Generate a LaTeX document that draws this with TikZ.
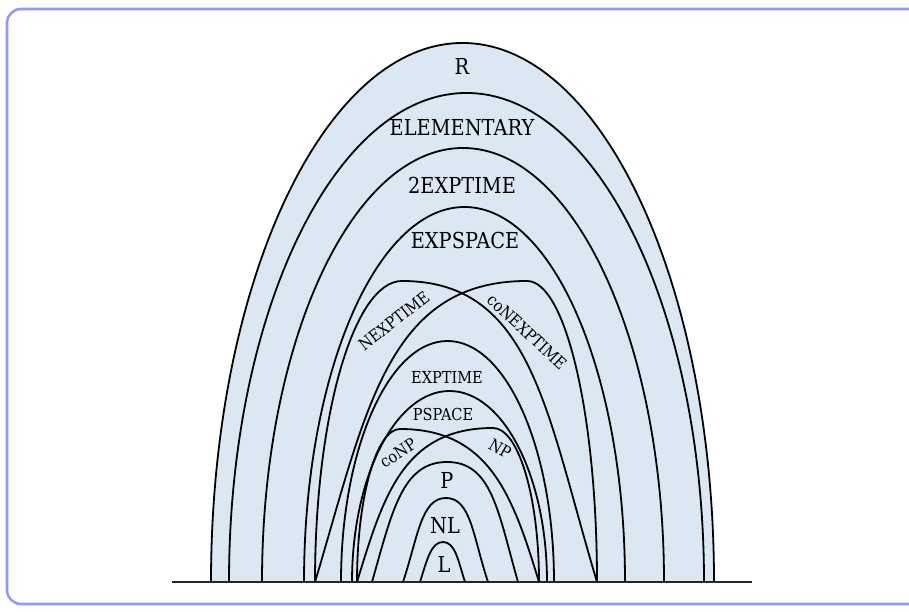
\documentclass[tikz,border=0pt]{standalone}
\usepackage{fontspec}
\setmainfont{DejaVu Serif}[FakeStretch=0.88]
\definecolor{archfill}{RGB}{220,231,244}
\definecolor{framelav}{RGB}{150,150,255}

\begin{document}
\begin{tikzpicture}[x=1pt,y=1pt,
    arch/.style={line width=1.8pt,black},
    big/.style={inner sep=0pt,font=\fontsize{22}{26}\selectfont},
    small/.style={inner sep=0pt,font=\fontsize{16.5}{20}\selectfont}]
    \clip (0,0) rectangle (909,612);
    \draw[framelav,line width=2.6pt,rounded corners=14pt] (7,8) rectangle (930,603);
    \fill[archfill] (211,30) arc[start angle=180,end angle=0,x radius=251.5,y radius=539] -- cycle;
    \draw[line width=1.8pt,black!85] (172,30) -- (752,30);
    \draw[arch] (211,30) arc[start angle=180,end angle=0,x radius=251.5,y radius=539];
    \draw[arch] (229,30) arc[start angle=180,end angle=0,x radius=237.5,y radius=489];
    \draw[arch] (262,30) arc[start angle=180,end angle=0,x radius=201,y radius=434];
    \draw[arch] (304,30) arc[start angle=180,end angle=0,x radius=160.5,y radius=375];
    \draw[arch] (315,30) arc[start angle=180,end angle=90,x radius=87,y radius=301]
        .. controls +(130,0) and +(-51,170) .. (597,30);
    \draw[arch] (315,30) .. controls +(51,170) and +(-140,0) .. (527,331)
        arc[start angle=90,end angle=0,x radius=70,y radius=301];
    \draw[arch] (341,30) arc[start angle=180,end angle=0,x radius=106.5,y radius=241];
    \draw[arch] (352,30) arc[start angle=180,end angle=0,x radius=97.5,y radius=191];
    \draw[arch] (357,30) arc[start angle=180,end angle=90,x radius=43,y radius=153]
        .. controls +(90,0) and +(-26,85) .. (539,30);
    \draw[arch] (357,30) .. controls +(26,85) and +(-90,0) .. (493,184)
        arc[start angle=90,end angle=0,x radius=46,y radius=154];
    \draw[arch] (372,30) .. controls +(20,70) and +(-45,0) .. (447,150)
        .. controls +(45,0) and +(-20,70) .. (518,30);
    \draw[arch] (403,30) .. controls +(15,45) and +(-25,0) .. (446,114)
        .. controls +(25,0) and +(-15,45) .. (488,30);
    \draw[arch] (420,30) .. controls +(7,22) and +(-12,0) .. (443,70)
        .. controls +(12,0) and +(-7,22) .. (465,30);
    \node[big] (r) at (462,546) {R};
    \node[big] (elem) at (462,484) {ELEMENTARY};
    \node[big] (twoexp) at (462,427) {2EXPTIME};
    \node[big] (expspace) at (465,372) {EXPSPACE};
    \node[small,rotate=38] (nexp) at (394,291) {NEXPTIME};
    \node[small,rotate=-43] (conexp) at (527,280) {coNEXPTIME};
    \node[small] (exptime) at (447,235) {EXPTIME};
    \node[small] (pspace) at (443,198) {PSPACE};
    \node[small,rotate=33] (conp) at (398,159) {coNP};
    \node[small,rotate=-30] (np) at (500,163) {NP};
    \node[big] (p) at (447,132) {P};
    \node[big] (nl) at (445,86) {NL};
    \node[big] (l) at (444,48) {L};
\end{tikzpicture}
\end{document}
